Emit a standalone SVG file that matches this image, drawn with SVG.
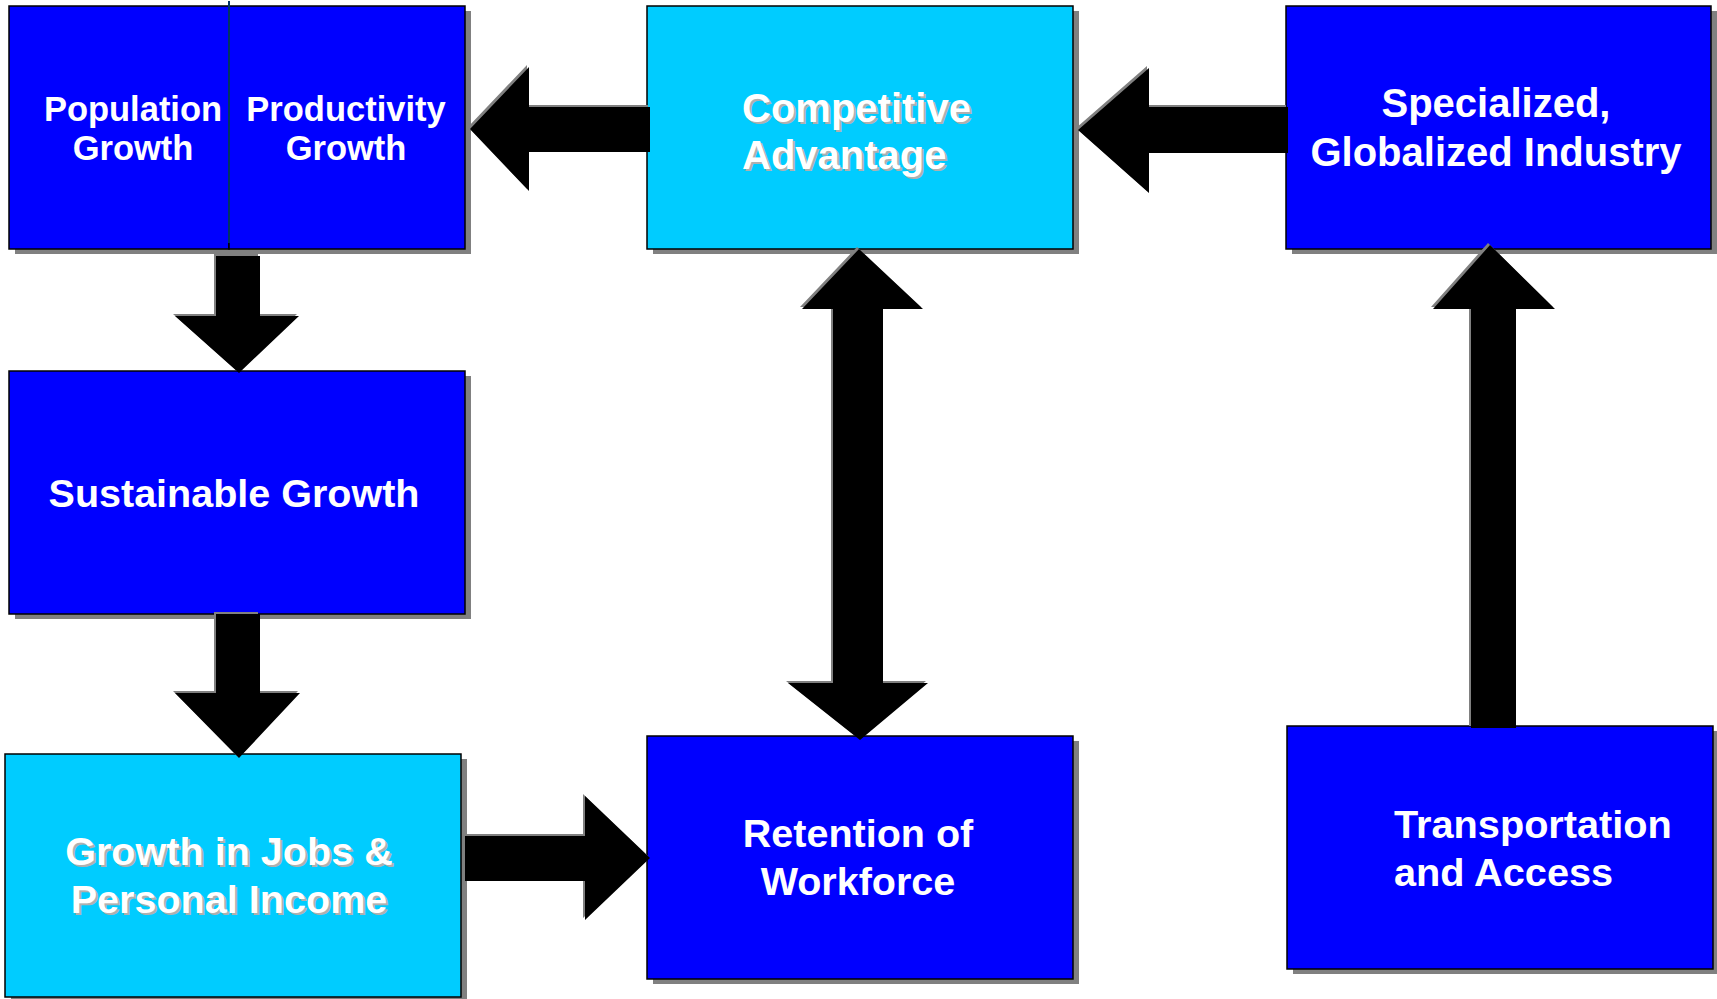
<svg xmlns="http://www.w3.org/2000/svg" width="1717" height="999" viewBox="0 0 1717 999">
<style>
.shadow{fill:#808080;}
.dark{fill:#0000FF;stroke:#000;stroke-width:1.5;}
.light{fill:#00CCFF;stroke:#000;stroke-width:1.5;}
.lbl{font-family:"Liberation Sans",Arial,sans-serif;font-weight:bold;fill:#FFFFFF;}
.tsh{font-family:"Liberation Sans",Arial,sans-serif;font-weight:bold;fill:#B0B0B0;}
.arrow{fill:#000;}
.ash{fill:#808080;}
</style>
<rect width="1717" height="999" fill="#FFFFFF"/>
<g id="nodes">
  <g id="node-population-productivity">
    <rect class="shadow" x="15" y="11" width="456" height="243"/>
    <g id="node-population">
      <rect class="dark" x="9" y="6" width="220" height="243"/>
      <text class="lbl" font-size="34.5" text-anchor="middle"><tspan x="133" y="121">Population</tspan><tspan x="133" y="160">Growth</tspan></text>
    </g>
    <g id="node-productivity">
      <rect class="dark" x="229" y="6" width="236" height="243"/>
      <text class="lbl" font-size="34.5" text-anchor="middle"><tspan x="346" y="121">Productivity</tspan><tspan x="346" y="160">Growth</tspan></text>
    </g>
    <line x1="229" y1="1" x2="229" y2="243" stroke="#003366" stroke-width="2"/>
  </g>
  <g id="node-competitive">
    <rect class="shadow" x="653" y="11" width="426" height="243"/>
    <rect class="light" x="647" y="6" width="426" height="243"/>
    <text class="tsh" font-size="40"><tspan x="744" y="124">Competitive</tspan><tspan x="744" y="171">Advantage</tspan></text>
    <text class="lbl" font-size="40"><tspan x="742" y="122">Competitive</tspan><tspan x="742" y="169">Advantage</tspan></text>
  </g>
  <g id="node-specialized">
    <rect class="shadow" x="1292" y="11" width="425" height="243"/>
    <rect class="dark" x="1286" y="6" width="425" height="243"/>
    <text class="lbl" font-size="40" text-anchor="middle"><tspan x="1496" y="117">Specialized,</tspan><tspan x="1496" y="166">Globalized Industry</tspan></text>
  </g>
  <g id="node-sustainable">
    <rect class="shadow" x="15" y="376" width="456" height="243"/>
    <rect class="dark" x="9" y="371" width="456" height="243"/>
    <text class="lbl" font-size="39.5" text-anchor="middle" x="234" y="507">Sustainable Growth</text>
  </g>
  <g id="node-jobs">
    <rect class="shadow" x="11" y="759" width="456" height="243"/>
    <rect class="light" x="5" y="754" width="456" height="243"/>
    <text class="tsh" font-size="39.6" text-anchor="middle"><tspan x="231" y="867">Growth in Jobs &amp;</tspan><tspan x="231" y="915">Personal Income</tspan></text>
    <text class="lbl" font-size="39.6" text-anchor="middle"><tspan x="229" y="865">Growth in Jobs &amp;</tspan><tspan x="229" y="913">Personal Income</tspan></text>
  </g>
  <g id="node-retention">
    <rect class="shadow" x="653" y="741" width="426" height="243"/>
    <rect class="dark" x="647" y="736" width="426" height="243"/>
    <text class="lbl" font-size="39.5" text-anchor="middle"><tspan x="858" y="847">Retention of</tspan><tspan x="858" y="895">Workforce</tspan></text>
  </g>
  <g id="node-transportation">
    <rect class="shadow" x="1293" y="731" width="426" height="243"/>
    <rect class="dark" x="1287" y="726" width="426" height="243"/>
    <text class="lbl" font-size="39.7"><tspan x="1394" y="838">Transportation</tspan><tspan x="1394" y="886">and Access</tspan></text>
  </g>
</g>
<g id="connectors">
  <g id="arrow-competitive-to-growth">
    <polygon class="ash" transform="translate(-2,-2)" points="470,129 529,67 529,107 650,107 650,152 529,152 529,191"/>
    <polygon class="arrow" points="470,129 529,67 529,107 650,107 650,152 529,152 529,191"/>
  </g>
  <g id="arrow-specialized-to-competitive">
    <polygon class="ash" transform="translate(-2,-2)" points="1078,130 1149,68 1149,107 1288,107 1288,153 1149,153 1149,193"/>
    <polygon class="arrow" points="1078,130 1149,68 1149,107 1288,107 1288,153 1149,153 1149,193"/>
  </g>
  <g id="arrow-growth-to-sustainable">
    <polygon class="ash" transform="translate(-2,-2)" points="216,256 260,256 260,316 299,316 239,373 175,316 216,316"/>
    <polygon class="arrow" points="216,256 260,256 260,316 299,316 239,373 175,316 216,316"/>
  </g>
  <g id="arrow-sustainable-to-jobs">
    <polygon class="ash" transform="translate(-2,-2)" points="216,614 260,614 260,693 300,693 239,758 175,693 216,693"/>
    <polygon class="arrow" points="216,614 260,614 260,693 300,693 239,758 175,693 216,693"/>
  </g>
  <g id="arrow-jobs-to-retention">
    <polygon class="ash" transform="translate(-2,-2)" points="465,836 585,836 585,796 650,858 585,920 585,881 465,881"/>
    <polygon class="arrow" points="465,836 585,836 585,796 650,858 585,920 585,881 465,881"/>
  </g>
  <g id="arrow-competitive-retention">
    <polygon class="ash" transform="translate(-2,-2)" points="859,249 923,309 883,309 883,683 928,683 860,740 788,683 833,683 833,309 802,309"/>
    <polygon class="arrow" points="859,249 923,309 883,309 883,683 928,683 860,740 788,683 833,683 833,309 802,309"/>
  </g>
  <g id="arrow-transportation-to-specialized">
    <polygon class="ash" transform="translate(-2,-2)" points="1490,245 1555,309 1516,309 1516,728 1471,728 1471,309 1433,309"/>
    <polygon class="arrow" points="1490,245 1555,309 1516,309 1516,728 1471,728 1471,309 1433,309"/>
  </g>
</g>
</svg>
